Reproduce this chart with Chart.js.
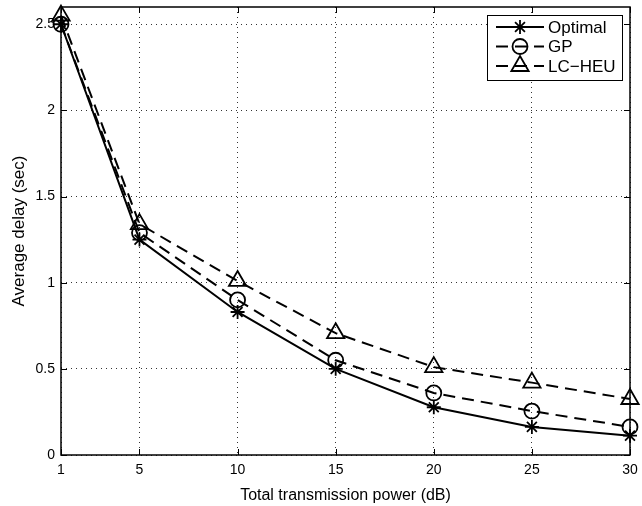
<!DOCTYPE html>
<html>
<head>
<meta charset="utf-8">
<script src="https://cdn.jsdelivr.net/npm/chart.js@4"></script>
<style>
  html, body { margin: 0; padding: 0; background: #fff; }
  #wrap { width: 642px; height: 506px; }
</style>
</head>
<body>
<div id="wrap"><canvas id="c" width="642" height="506"></canvas></div>
<script>
// data
const powers = [1, 5, 10, 15, 20, 25, 30];
const optimal = [2.5, 1.25, 0.83, 0.5, 0.277, 0.163, 0.112];
const gp = [2.5, 1.29, 0.9, 0.55, 0.36, 0.255, 0.163];
const lcHeu = [2.55, 1.34, 1.01, 0.707, 0.51, 0.42, 0.325];
const xTicks = [1, 5, 10, 15, 20, 25, 30];
const yTicks = [0, 0.5, 1, 1.5, 2, 2.5];

const FONT = 'Liberation Sans, Arial, Helvetica, sans-serif';

function pts(ys) {
  return powers.map((x, i) => ({ x: x, y: ys[i] }));
}

const series = [
  { label: 'Optimal', data: pts(optimal), pointStyle: 'star', pointRadius: 7, dash: [] },
  { label: 'GP', data: pts(gp), pointStyle: 'circle', pointRadius: 7.5, dash: [12, 7] },
  { label: 'LC\u2212HEU', data: pts(lcHeu), pointStyle: 'triangle', pointRadius: 10, dash: [12, 7] }
];

// box, inward ticks and legend like the matlab figure
const framePlugin = {
  id: 'frame',
  afterDraw(chart) {
    const ctx = chart.ctx;
    const a = chart.chartArea;
    const xs = chart.scales.x, ys = chart.scales.y;
    ctx.save();
    ctx.strokeStyle = '#000';
    ctx.lineWidth = 1.5;
    ctx.strokeRect(a.left, a.top, a.right - a.left, a.bottom - a.top);
    ctx.lineWidth = 1;
    ctx.beginPath();
    xTicks.forEach(t => {
      const px = Math.round(xs.getPixelForValue(t)) + 0.5;
      ctx.moveTo(px, a.bottom); ctx.lineTo(px, a.bottom - 6);
      ctx.moveTo(px, a.top); ctx.lineTo(px, a.top + 6);
    });
    yTicks.forEach(t => {
      const py = Math.round(ys.getPixelForValue(t)) + 0.5;
      ctx.moveTo(a.left, py); ctx.lineTo(a.left + 6, py);
      ctx.moveTo(a.right, py); ctx.lineTo(a.right - 6, py);
    });
    ctx.stroke();

    // legend
    const lx = 487, ly = 15, lw = 135, lh = 65;
    ctx.fillStyle = '#fff';
    ctx.fillRect(lx, ly, lw, lh);
    ctx.lineWidth = 1;
    ctx.strokeRect(lx + 0.5, ly + 0.5, lw, lh);
    const rows = [27, 46.5, 66];
    chart.data.datasets.forEach((ds, i) => {
      const y = rows[i];
      ctx.strokeStyle = '#000';
      ctx.lineWidth = 2;
      ctx.setLineDash(ds.borderDash || []);
      ctx.beginPath();
      ctx.moveTo(496, y); ctx.lineTo(544, y);
      ctx.stroke();
      ctx.setLineDash([]);
      ctx.lineWidth = 1.8;
      ctx.fillStyle = 'rgba(0,0,0,0)';
      Chart.helpers.drawPoint(ctx, {
        pointStyle: ds.pointStyle, radius: ds.pointRadius, borderWidth: 1.8, rotation: 0
      }, 520, y);
      ctx.fillStyle = '#000';
      ctx.font = '17px ' + FONT;
      ctx.textBaseline = 'middle';
      ctx.textAlign = 'left';
      ctx.fillText(ds.label, 548, y + 1);
    });
    ctx.restore();
  }
};

new Chart(document.getElementById('c').getContext('2d'), {
  type: 'line',
  data: {
    datasets: series.map(s => ({
      label: s.label,
      data: s.data,
      borderColor: '#000',
      backgroundColor: 'rgba(0,0,0,0)',
      borderWidth: 2,
      borderDash: s.dash,
      pointStyle: s.pointStyle,
      pointRadius: s.pointRadius,
      pointBorderWidth: 1.8,
      pointBorderColor: '#000',
      pointBackgroundColor: 'rgba(0,0,0,0)',
      tension: 0,
      fill: false,
      clip: false
    }))
  },
  options: {
    responsive: false,
    animation: false,
    events: [],
    layout: { autoPadding: false, padding: { left: 0, right: 12, top: 7, bottom: 0 } },
    plugins: { legend: { display: false }, tooltip: { enabled: false } },
    scales: {
      x: {
        type: 'linear',
        min: 1,
        max: 30,
        afterBuildTicks: s => { s.ticks = xTicks.map(v => ({ value: v })); },
        afterFit: s => { s.height = 51; s.paddingLeft = 0; s.paddingRight = 0; },
        grid: { color: '#000', lineWidth: 0.8, drawTicks: false },
        border: { display: false, dash: [1, 4] },
        ticks: { color: '#000', font: { family: FONT, size: 14 }, padding: 7, maxRotation: 0,
                 callback: v => String(v) },
        title: { display: true, text: 'Total transmission power (dB)', color: '#000',
                 font: { family: FONT, size: 16 }, padding: { top: 0, bottom: 1 } }
      },
      y: {
        min: 0,
        max: 2.6,
        afterBuildTicks: s => { s.ticks = yTicks.map(v => ({ value: v })); },
        afterFit: s => { s.width = 61; s.paddingTop = 0; s.paddingBottom = 0; },
        grid: { color: '#000', lineWidth: 0.8, drawTicks: false },
        border: { display: false, dash: [1, 4] },
        ticks: { color: '#000', font: { family: FONT, size: 14 }, padding: 6,
                 callback: v => String(v) },
        title: { display: true, text: 'Average delay (sec)', color: '#000',
                 font: { family: FONT, size: 17 }, padding: { top: 9, bottom: 0 } }
      }
    }
  },
  plugins: [framePlugin]
});
</script>
</body>
</html>
